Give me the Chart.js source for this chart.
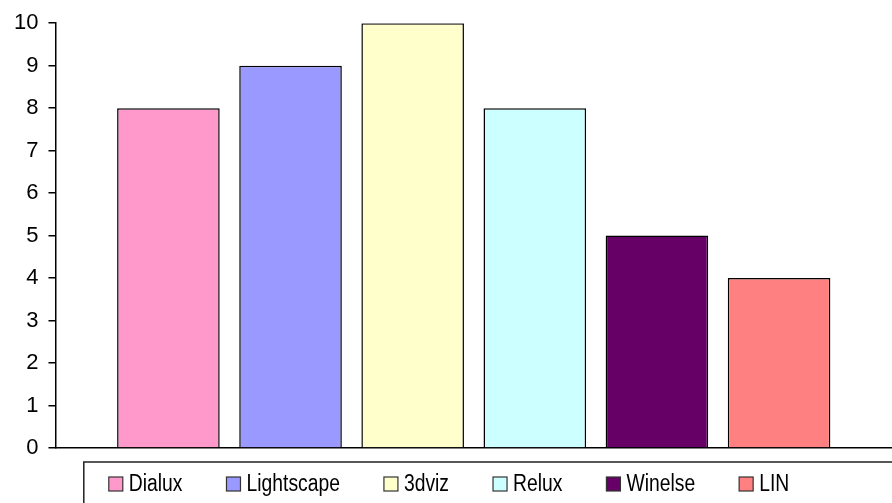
<!DOCTYPE html>
<html>
<head>
<meta charset="utf-8">
<title>Programas</title>
<script src="https://cdn.jsdelivr.net/npm/chart.js@4/dist/chart.umd.min.js"></script>
<style>
    html, body { margin: 0; padding: 0; background: #ffffff; }
    #wrap { width: 892px; height: 503px; position: relative; }
</style>
</head>
<body>
<div id="wrap"><canvas id="chart"></canvas></div>
<script>
// Dados do gráfico
const seriesNames = ['Dialux', 'Lightscape', '3dviz', 'Relux', 'Winelse', 'LIN'];
const seriesValues = [8, 9, 10, 8, 5, 4];
const seriesColors = ['#FF99CC', '#9999FF', '#FFFFCC', '#CCFFFF', '#660066', '#FF8080'];
const categoryLabels = [''];
const yTicks = [0, 1, 2, 3, 4, 5, 6, 7, 8, 9, 10];

const FONT = 'Arial, "Liberation Sans", sans-serif';
Chart.defaults.font.family = FONT;
Chart.defaults.color = '#000';

// Legenda desenhada à mão, com moldura (estilo Excel)
// o texto do original é estreito, por isso é comprimido na horizontal
const boxedLegend = {
    id: 'boxedLegend',
    afterDraw(chart) {
        const ctx = chart.ctx;
        const box = 14, textGap = 6, itemGap = 44, squeeze = 0.84;
        const top = chart.chartArea.bottom + 14;

        ctx.save();
        ctx.font = '23px ' + FONT;
        const items = chart.data.datasets.map(ds => {
            const tw = ctx.measureText(ds.label).width * squeeze;
            return { label: ds.label, color: ds.backgroundColor, tw: tw, w: box + textGap + tw };
        });
        const total = items.reduce((s, it) => s + it.w, 0) + itemGap * (items.length - 1);
        let x = chart.width / 2 + 3 - total / 2;

        // moldura
        ctx.strokeStyle = '#222';
        ctx.lineWidth = 1.5;
        ctx.strokeRect(x - 25, top, chart.width, 60);

        const cy = top + 22;
        ctx.textBaseline = 'middle';
        ctx.textAlign = 'left';
        items.forEach(it => {
            ctx.fillStyle = it.color;
            ctx.fillRect(x, cy - box / 2, box, box);
            ctx.strokeStyle = '#333';
            ctx.lineWidth = 1.2;
            ctx.strokeRect(x, cy - box / 2, box, box);

            ctx.save();
            ctx.translate(x + box + textGap, cy + 1);
            ctx.scale(squeeze, 1);
            ctx.fillStyle = '#000';
            ctx.fillText(it.label, 0, 0);
            ctx.restore();

            x += it.w + itemGap;
        });
        ctx.restore();
    }
};

const datasets = seriesNames.map((name, i) => ({
    label: name,
    data: [seriesValues[i]],
    backgroundColor: seriesColors[i],
    borderColor: '#000',
    borderWidth: 1.5,
    categoryPercentage: 0.876,
    barPercentage: 0.84
}));

new Chart(document.getElementById('chart'), {
    type: 'bar',
    data: { labels: categoryLabels, datasets: datasets },
    options: {
        responsive: true,
        maintainAspectRatio: false,
        animation: false,
        layout: { padding: { top: 22, left: 4, right: 0, bottom: 55 } },
        plugins: {
            legend: { display: false },
            tooltip: { enabled: false }
        },
        scales: {
            x: {
                ticks: { display: false },
                grid: { display: true, drawOnChartArea: false, drawTicks: false },
                border: { display: true, color: '#000', width: 1.5 }
            },
            y: {
                min: yTicks[0],
                max: yTicks[yTicks.length - 1],
                afterBuildTicks: scale => { scale.ticks = yTicks.map(v => ({ value: v })); },
                ticks: { font: { size: 22 }, color: '#000', padding: 10 },
                grid: { drawOnChartArea: false, tickLength: 7, color: '#000', lineWidth: 1.5 },
                border: { display: true, color: '#000', width: 1.5 }
            }
        }
    },
    plugins: [boxedLegend]
});
</script>
</body>
</html>
